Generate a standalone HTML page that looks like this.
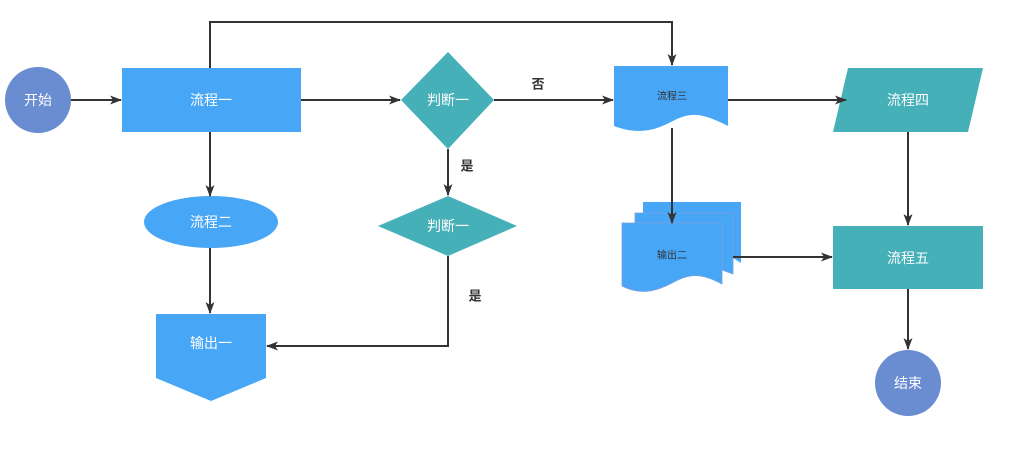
<!DOCTYPE html>
<html><head><meta charset="utf-8"><style>
html,body{margin:0;padding:0;background:#fff;}
svg{display:block;}
text{font-family:"Liberation Sans","Noto Sans CJK SC",sans-serif;}
</style></head><body>
<svg width="1024" height="459" viewBox="0 0 1024 459" xmlns="http://www.w3.org/2000/svg">
<defs>
<marker id="a" markerWidth="12" markerHeight="12" refX="11" refY="6" orient="auto" markerUnits="userSpaceOnUse">
<path d="M0,1.5 L12,6 L0,10.5 L3,6 Z" fill="#333"/>
</marker>
</defs>
<!-- shapes -->
<circle cx="38" cy="100" r="33" fill="#6a8cd0"/>
<rect x="122" y="68" width="179" height="64" fill="#47a6f5"/>
<ellipse cx="211" cy="222" rx="67" ry="26" fill="#47a6f5"/>
<polygon points="156,314 266,314 266,378 211,401 156,378" fill="#47a6f5"/>
<polygon points="448,52 494,100 448,149 401,100" fill="#45b0b8"/>
<polygon points="448,196 517,226 448,256 378,226" fill="#45b0b8"/>
<path d="M614,66 H728 V126 C700,112 690,112 671,122 C652,132 635,134 614,126 Z" fill="#47a6f5"/>
<path d="M643,202 H741 V263 L733,258 V213 H643 Z" fill="#47a6f5"/>
<path d="M635,213 H733 V274 L722,270 V223 H635 Z" fill="#47a6f5" stroke="#7aa0e0" stroke-width="0.8"/>
<path d="M622,223 H722 V284 C700,272 688,274 672,283 C655,292 640,295 622,286 Z" fill="#47a6f5" stroke="#7aa0e0" stroke-width="0.8"/>
<polygon points="848,68 983,68 968,132 833,132" fill="#45b0b8"/>
<rect x="833" y="226" width="150" height="63" fill="#45b0b8"/>
<circle cx="908" cy="383" r="33" fill="#6a8cd0"/>
<g stroke="#333" stroke-width="2" fill="none">
<line x1="71" y1="100" x2="121" y2="100" marker-end="url(#a)"/>
<line x1="301" y1="100" x2="400" y2="100" marker-end="url(#a)"/>
<line x1="494" y1="100" x2="613" y2="100" marker-end="url(#a)"/>
<line x1="728" y1="100" x2="846" y2="100" marker-end="url(#a)"/>
<polyline points="210,68 210,22 672,22 672,65" marker-end="url(#a)"/>
<line x1="210" y1="132" x2="210" y2="196" marker-end="url(#a)"/>
<line x1="210" y1="248" x2="210" y2="313" marker-end="url(#a)"/>
<line x1="448" y1="149" x2="448" y2="195" marker-end="url(#a)"/>
<polyline points="448,256 448,346 267,346" marker-end="url(#a)"/>
<line x1="672" y1="128" x2="672" y2="223" marker-end="url(#a)"/>
<line x1="733" y1="257" x2="832" y2="257" marker-end="url(#a)"/>
<line x1="908" y1="132" x2="908" y2="225" marker-end="url(#a)"/>
<line x1="908" y1="289" x2="908" y2="349" marker-end="url(#a)"/>
</g>
<!-- labels -->
<g fill="#fff" font-size="14" text-anchor="middle" dominant-baseline="central">
<text x="38" y="100">开始</text>
<text x="211" y="100">流程一</text>
<text x="211" y="222">流程二</text>
<text x="211" y="343">输出一</text>
<text x="448" y="100">判断一</text>
<text x="448" y="226">判断一</text>
<text x="908" y="100">流程四</text>
<text x="908" y="258">流程五</text>
<text x="908" y="383">结束</text>
</g>
<g fill="#333" font-size="10" text-anchor="middle" dominant-baseline="central">
<text x="672" y="97">流程三</text>
<text x="672" y="256">输出二</text>
</g>
<g fill="#333" font-size="13" font-weight="bold" text-anchor="middle" dominant-baseline="central">
<text x="538" y="84">否</text>
<text x="467" y="166">是</text>
<text x="475" y="296">是</text>
</g>
</svg>
</body></html>
